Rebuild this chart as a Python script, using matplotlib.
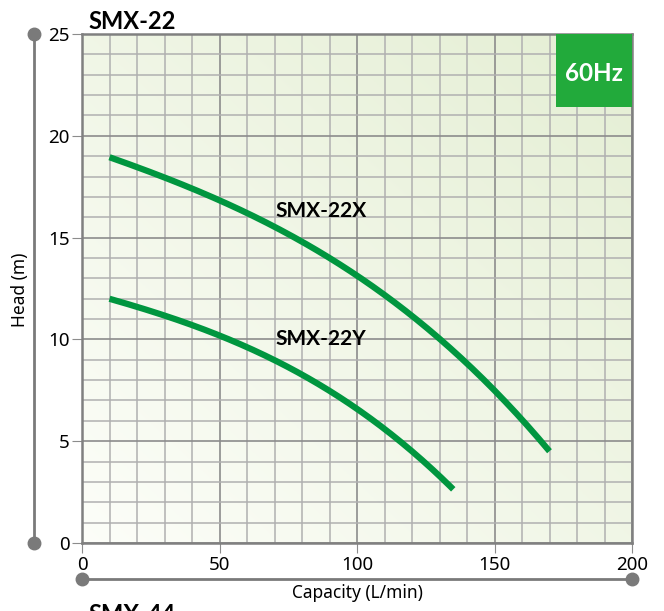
import numpy as np
import matplotlib.pyplot as plt
from matplotlib.patches import Rectangle
from matplotlib.lines import Line2D

# values
x_capacity = [10, 25, 43.6, 60, 75, 94, 110, 120, 130, 140, 150, 160, 170]
x_head = [18.9, 18.25, 17.3, 16.2, 15.0, 13.75, 12.3, 11.0, 10.0, 8.85, 7.5, 6.2, 4.4]

y_capacity = [10, 25, 43, 60, 79, 97.5, 108, 117, 128, 135]
y_head = [12.0, 11.4, 10.5, 9.65, 8.4, 6.8, 5.7, 4.9, 3.6, 2.6]

x_ticks = [0, 50, 100, 150, 200]
y_ticks = [0, 5, 10, 15, 20, 25]

plt.rcParams['font.family'] = ['Noto Sans', 'DejaVu Sans']
bold = ['Lato', 'DejaVu Sans']

fig = plt.figure(figsize=(6.64, 6.11), dpi=100)
ax = fig.add_axes([82 / 664, 68 / 611, 550 / 664, 509 / 611])

# background gradient, white lower left -> pale green upper right
gx, gy = np.meshgrid(np.linspace(0, 1, 200), np.linspace(0, 1, 200))
t = (gx + gy) / 2
c0 = np.array([0.99, 0.995, 0.975])
c1 = np.array([0.895, 0.935, 0.83])
img = c0 + (c1 - c0) * t[..., None]
ax.imshow(img, extent=[0, 200, 0, 25], origin='lower', aspect='auto', zorder=0)

ax.set_xlim(0, 200)
ax.set_ylim(0, 25)
ax.set_xticks(x_ticks)
ax.set_yticks(y_ticks)
ax.set_xticks(np.arange(0, 201, 10), minor=True)
ax.set_yticks(np.arange(0, 26, 1), minor=True)
ax.set_axisbelow(True)
ax.grid(which='minor', color='#b0b0b0', lw=1.1)
ax.grid(which='major', color='#8c8c8c', lw=1.2)
ax.tick_params(which='minor', length=0)
ax.tick_params(which='major', length=7, color='#8c8c8c', labelsize=13.5, pad=2)
for s in ax.spines.values():
    s.set_color('#808080')
    s.set_linewidth(1.8)

# smooth pump curves through the read points
green = '#00963f'
for cap, head in [(x_capacity, x_head), (y_capacity, y_head)]:
    fit = np.poly1d(np.polyfit(cap, head, 3))
    q = np.linspace(cap[0], cap[-1], 200)
    ax.plot(q, fit(q), color=green, lw=4.5, solid_capstyle='butt', zorder=3)

ax.text(87, 16.0, 'SMX-22X', family=bold, fontsize=15, fontweight='bold',
        ha='center', va='baseline', zorder=4)
ax.text(87, 9.72, 'SMX-22Y', family=bold, fontsize=15, fontweight='bold',
        ha='center', va='baseline', zorder=4)

ax.add_patch(Rectangle((172.3, 21.4), 27.7, 3.6, facecolor='#22aa3b', edgecolor='none', zorder=5))
ax.text(186.2, 23.05, '60Hz', family=bold, color='white', fontsize=17.5, fontweight='bold',
        ha='center', va='center', zorder=6)

# outside axis lines with dots
gray = '#7a7a7a'
vx = (34 - 82) / 550
hy = (543 - 579) / 509
ax.add_line(Line2D([vx, vx], [0, 1], transform=ax.transAxes, color=gray, lw=2, clip_on=False))
ax.add_line(Line2D([vx, vx], [0, 1], transform=ax.transAxes, color=gray, ls='none',
                   marker='o', ms=9, clip_on=False))
ax.add_line(Line2D([0, 1], [hy, hy], transform=ax.transAxes, color=gray, lw=2, clip_on=False))
ax.add_line(Line2D([0, 1], [hy, hy], transform=ax.transAxes, color=gray, ls='none',
                   marker='o', ms=9, clip_on=False))

fig.text(20 / 664, 1 - 290 / 611, 'Head (m)', rotation=90, fontsize=12.5, ha='center', va='center')
fig.text(357 / 664, 1 - 593 / 611, 'Capacity (L/min)', fontsize=12.5, ha='center', va='center')

fig.text(88 / 664, 1 - 29 / 611, 'SMX-22', family=bold, fontsize=17, fontweight='bold',
         ha='left', va='baseline')
fig.text(88 / 664, 1 - 622 / 611, 'SMX-44', family=bold, fontsize=17, fontweight='bold',
         ha='left', va='baseline')

fig.savefig('out.png', dpi=100)
